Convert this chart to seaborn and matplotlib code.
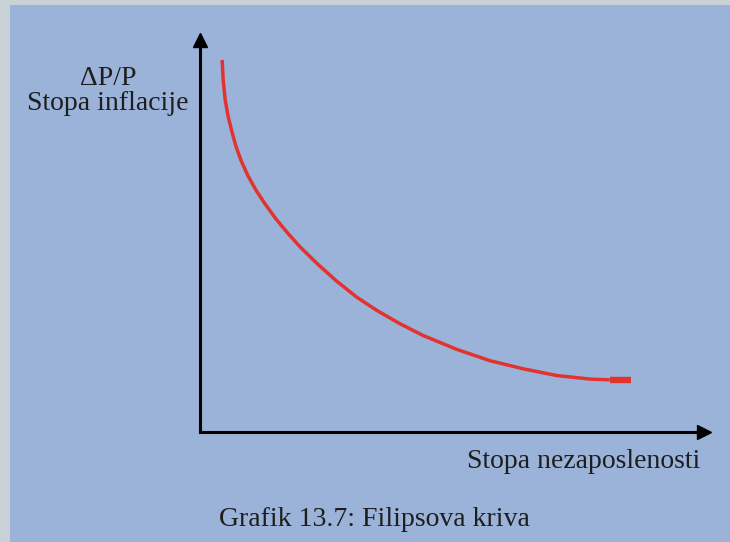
# plot.py
# Phillips curve sketch: inflation rate vs unemployment rate, no numeric ticks.

import matplotlib
matplotlib.use("Agg")
import matplotlib.pyplot as plt
from matplotlib.patches import Rectangle
import seaborn as sns
import pandas as pd

# Curve (arbitrary units, axes run 0..10)
unemployment = [0.44, 0.46, 0.50, 0.56, 0.63, 0.71, 0.82, 0.95, 1.11, 1.29, 1.51, 1.75,
                1.98, 2.32, 2.71, 3.11, 3.51, 3.97, 4.43, 5.09, 5.75, 6.42, 7.08, 7.74, 8.13]
inflation = [9.49, 8.98, 8.47, 8.04, 7.68, 7.30, 6.91, 6.54, 6.17, 5.82, 5.43, 5.06,
             4.73, 4.30, 3.85, 3.44, 3.10, 2.76, 2.46, 2.11, 1.82, 1.61, 1.44, 1.35, 1.33]
# short thicker stub at the right end of the curve
end_x = [8.13, 8.55]
end_y = [1.33, 1.33]

y_label = "\u0394P/P\nStopa inflacije"
x_label = "Stopa nezaposlenosti"
caption = "Grafik 13.7: Filipsova kriva"

BLUE = "#9bb3d8"
GRAY = "#c8d2d6"
RED = "#e2332f"
TEXT = "#1e1e1e"


def main():
    sns.set_theme(style="white")
    plt.rcParams["font.family"] = ["Liberation Serif", "DejaVu Serif"]

    W, H = 730, 542
    fig = plt.figure(figsize=(W / 100, H / 100), dpi=100, facecolor=GRAY)
    # blue panel (gray strip left and top)
    fig.patches.append(Rectangle((10 / W, 0), 1 - 10 / W, 1 - 5 / H,
                                 transform=fig.transFigure, facecolor=BLUE,
                                 edgecolor="none", zorder=-5))

    left, right, bottom, top = 200, 704, 432, 40
    ax = fig.add_axes([left / W, 1 - bottom / H, (right - left) / W, (bottom - top) / H])
    ax.set_zorder(2)
    ax.set_facecolor("none")
    ax.set_xlim(0, 10)
    ax.set_ylim(0, 10)

    df = pd.DataFrame({"u": unemployment, "pi": inflation})
    sns.lineplot(data=df, x="u", y="pi", ax=ax, color=RED, linewidth=2.5,
                 sort=False, estimator=None, solid_capstyle="butt",
                 solid_joinstyle="round")
    ax.plot(end_x, end_y, color=RED, linewidth=4.6, solid_capstyle="butt")

    # axes with arrow heads, no ticks
    for side in ["top", "right"]:
        ax.spines[side].set_visible(False)
    for side in ["left", "bottom"]:
        ax.spines[side].set_linewidth(2.2)
        ax.spines[side].set_color("black")
    ax.plot(1, 0, ">", color="black", markersize=10, transform=ax.transAxes, clip_on=False)
    ax.plot(0, 1, "^", color="black", markersize=10, transform=ax.transAxes, clip_on=False)
    ax.set_xticks([])
    ax.set_yticks([])
    ax.set_xlabel("")
    ax.set_ylabel("")

    fig.text(108 / W, 1 - 91 / H, y_label, ha="center", va="center",
             multialignment="center", fontsize=20, color=TEXT, linespacing=1.05)
    fig.text(700 / W, 1 - 462 / H, x_label, ha="right", va="center",
             fontsize=20, color=TEXT)
    fig.text(374 / W, 1 - 520 / H, caption, ha="center", va="center",
             fontsize=20, color=TEXT)

    fig.savefig("out.png", dpi=100, facecolor=GRAY)


if __name__ == "__main__":
    main()
